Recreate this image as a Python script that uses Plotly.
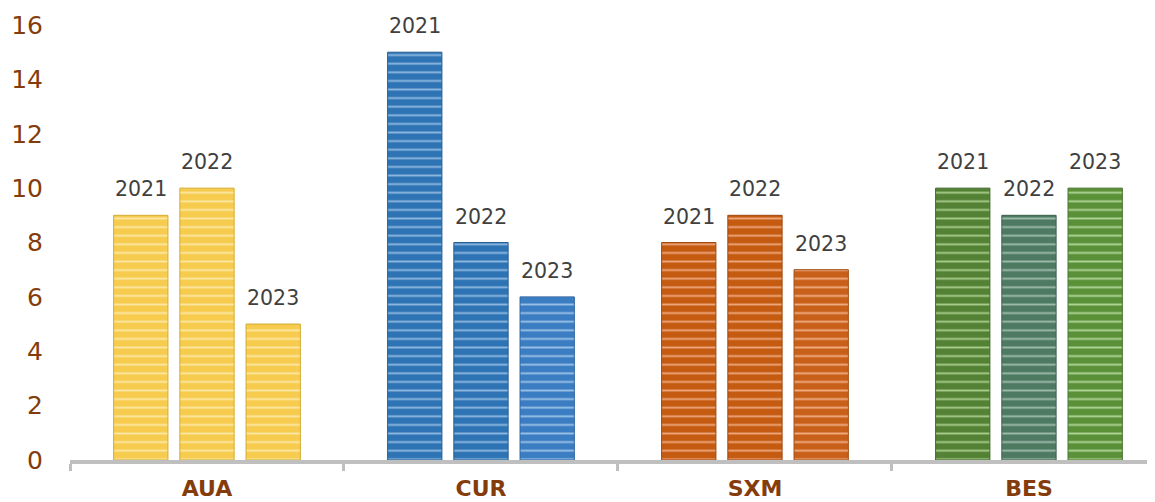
import plotly.graph_objects as go

categories = ["AUA", "CUR", "SXM", "BES"]
years = ["2021", "2022", "2023"]
values_2021 = [9, 15, 8, 10]
values_2022 = [10, 8, 9, 9]
values_2023 = [5, 6, 7, 10]
series = [values_2021, values_2022, values_2023]

# style: colour per (year, category)
bar_colors = {
    "2021": ["#F6CB4E", "#2E74B5", "#C55A11", "#548235"],
    "2022": ["#F6CB4E", "#2E74B5", "#C55A11", "#4E7A62"],
    "2023": ["#F6CB4E", "#3A7DC2", "#C8601A", "#5A9138"],
}
stripe_colors = {
    "2021": ["#FDE7A2", "#8DB6DE", "#EDA57A", "#A6CB8A"],
    "2022": ["#FDE7A2", "#8DB6DE", "#EDA57A", "#9DBAA9"],
    "2023": ["#FDE7A2", "#98C0E6", "#EFAB80", "#AED495"],
}
edge_colors = {
    "2021": ["#D2AC34", "#245D92", "#9E470D", "#40662A"],
    "2022": ["#D2AC34", "#245D92", "#9E470D", "#3D604D"],
    "2023": ["#D2AC34", "#2E63A0", "#A04C13", "#47722C"],
}

fig = go.Figure()
for yr, vals in zip(years, series):
    for i, (cat, v) in enumerate(zip(categories, vals)):
        fig.add_trace(go.Bar(
            x=[cat], y=[v], name=yr, offsetgroup=yr,
            marker=dict(
                color=bar_colors[yr][i],
                line=dict(color=edge_colors[yr][i], width=1),
                pattern=dict(shape="-", size=8.6, solidity=0.22,
                             fgcolor=stripe_colors[yr][i], bgcolor=bar_colors[yr][i],
                             fgopacity=1, fillmode="replace"),
            ),
            showlegend=False,
        ))

# year labels above each bar
offsets = [-66, 0, 66]
for j, (yr, vals) in enumerate(zip(years, series)):
    for cat, v in zip(categories, vals):
        fig.add_annotation(
            x=cat, y=v, text=yr, showarrow=False,
            xshift=offsets[j], yshift=12, yanchor="bottom",
            font=dict(family="DejaVu Sans", size=20.5, color="#404040"),
        )

fig.update_layout(
    width=1147, height=494,
    margin=dict(l=62, r=0, t=17, b=42),
    paper_bgcolor="white", plot_bgcolor="white",
    barmode="group", bargap=0.275, bargroupgap=0.18,
)
fig.update_xaxes(
    type="category", categoryorder="array", categoryarray=categories,
    range=[-0.5, 3.46], automargin=False,
    showline=True, linecolor="#BFBFBF", linewidth=4,
    ticks="outside", tickson="boundaries", ticklen=7, tickwidth=3, tickcolor="#BFBFBF",
    tickfont=dict(family="DejaVu Sans", size=22, color="#843C0C", weight="bold"),
    ticklabelstandoff=6,
    showgrid=False, zeroline=False,
)
fig.update_yaxes(
    range=[0, 16], dtick=2, showgrid=False, zeroline=False, showline=False,
    automargin=False,
    tickfont=dict(family="DejaVu Sans", size=25, color="#843C0C"),
    ticklabelstandoff=26,
)

fig.write_html("out.html")
